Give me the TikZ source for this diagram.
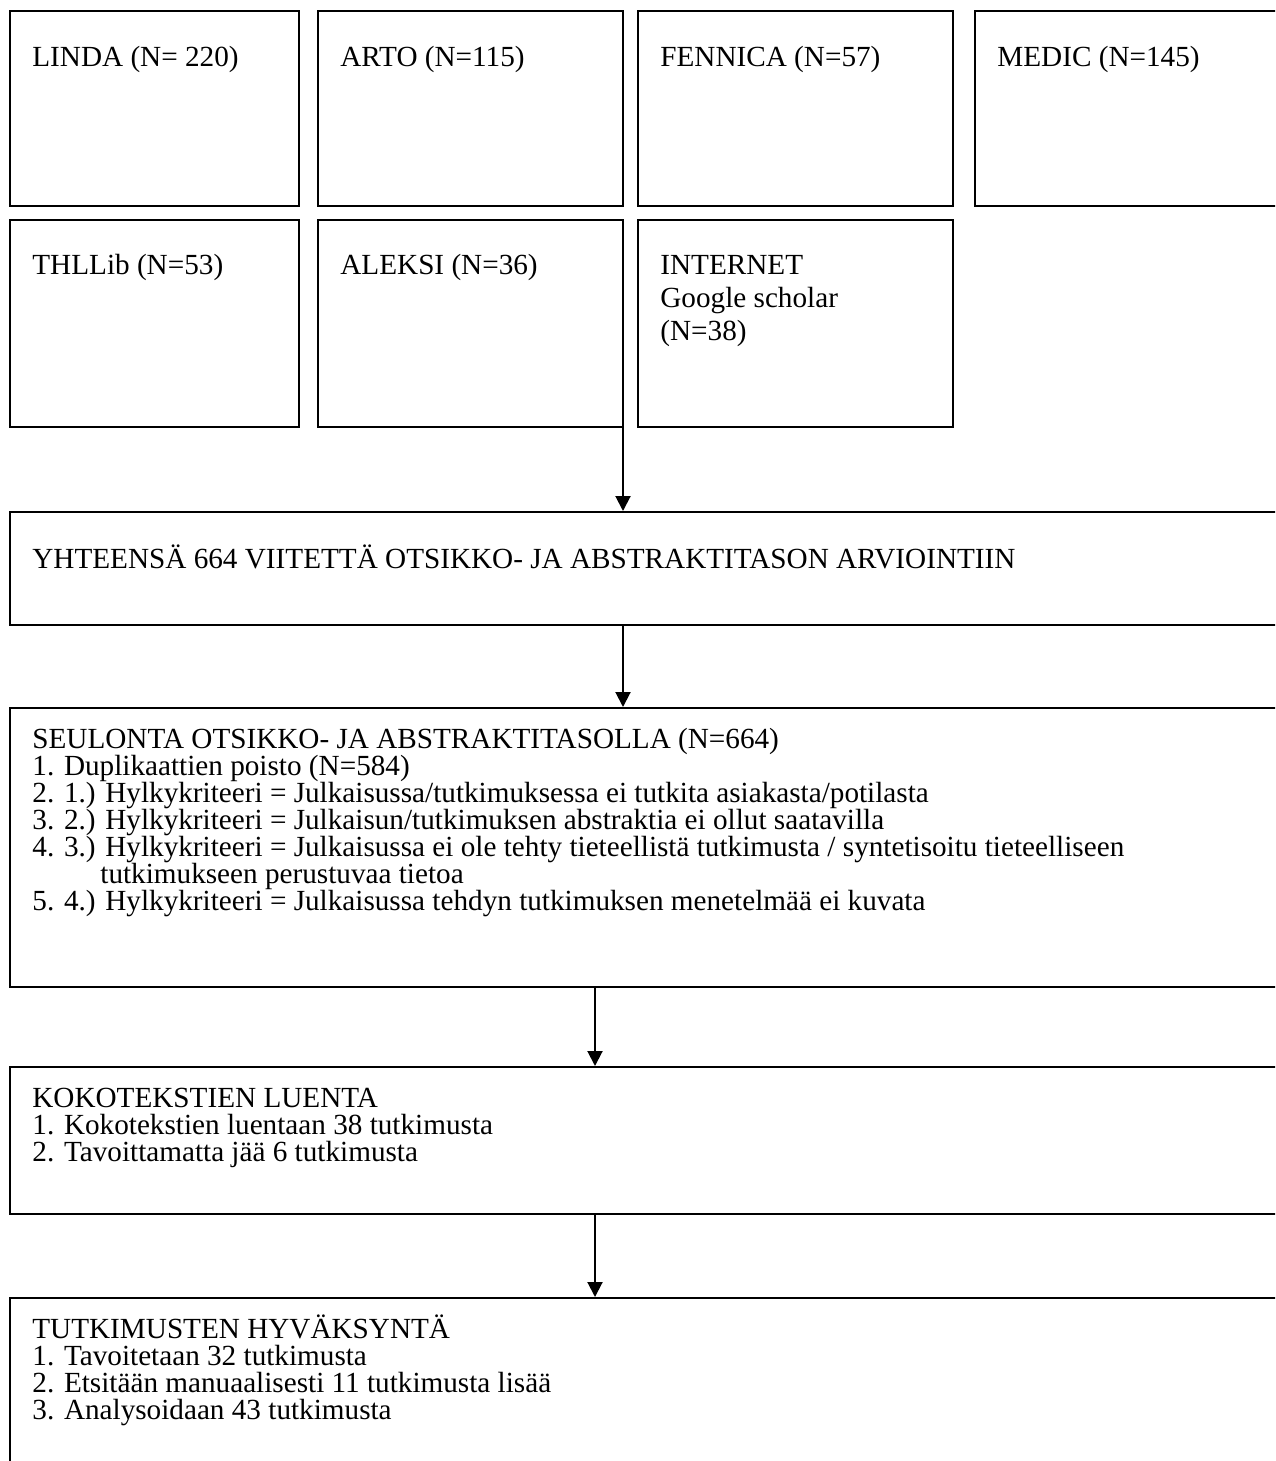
\documentclass[tikz,border=0pt]{standalone}
\usepackage{fontspec}
\setmainfont{Liberation Serif}
\usetikzlibrary{arrows.meta,fit}
\begin{document}
\begin{tikzpicture}[x=0.5pt,y=-0.5pt,
  box/.style={draw=black, line width=1pt, inner sep=0pt},
  lbl/.style={anchor=base west, inner sep=0pt, font=\fontsize{14.6pt}{16pt}\selectfont},
  arr/.style={draw=black, line width=1pt, -{Triangle[length=7.5pt,width=7.5pt]}}]
\useasboundingbox (0,0) rectangle (1275,1461);
\clip (0,0) rectangle (1275,1461);
% row 1
\node[box, fit={(10,11)(299,206)}] (linda) {};
\node[box, fit={(318,11)(623,206)}] (arto) {};
\node[box, fit={(638,11)(953,206)}] (fennica) {};
\node[box, fit={(975,11)(1300,206)}] (medic) {};
\node[lbl] (tlinda) at (32,67) {LINDA (N= 220)};
\node[lbl] (tarto) at (340,67) {ARTO (N=115)};
\node[lbl] (tfennica) at (660,67) {FENNICA (N=57)};
\node[lbl] (tmedic) at (997,67) {MEDIC (N=145)};
% row 2
\node[box, fit={(10,220)(299,427)}] (thl) {};
\node[box, fit={(318,220)(623,427)}] (aleksi) {};
\node[box, fit={(638,220)(953,427)}] (internet) {};
\node[lbl] (tthl) at (32,274) {THLLib (N=53)};
\node[lbl] (taleksi) at (340,274) {ALEKSI (N=36)};
\node[lbl] (tint1) at (660,274) {INTERNET};
\node[lbl] (tint2) at (660,307) {Google scholar};
\node[lbl] (tint3) at (660,340) {(N=38)};
% big boxes
\node[box, fit={(10,512)(1300,625)}] (yht) {};
\node[lbl] (tyht) at (32,568) {YHTEENSÄ 664 VIITETTÄ OTSIKKO- JA ABSTRAKTITASON ARVIOINTIIN};
\node[box, fit={(10,708)(1300,987)}] (seul) {};
\node[lbl] (ts1) at (32,748) {SEULONTA OTSIKKO- JA ABSTRAKTITASOLLA (N=664)};
\node[lbl] (ts2) at (32,775) {1. Duplikaattien poisto (N=584)};
\node[lbl] (ts3) at (32,802) {2. 1.) Hylkykriteeri = Julkaisussa/tutkimuksessa ei tutkita asiakasta/potilasta};
\node[lbl] (ts4) at (32,829) {3. 2.) Hylkykriteeri = Julkaisun/tutkimuksen abstraktia ei ollut saatavilla};
\node[lbl] (ts5) at (32,856) {4. 3.) Hylkykriteeri = Julkaisussa ei ole tehty tieteellistä tutkimusta / syntetisoitu tieteelliseen};
\node[lbl] (ts6) at (100,883) {tutkimukseen perustuvaa tietoa};
\node[lbl] (ts7) at (32,910) {5. 4.) Hylkykriteeri = Julkaisussa tehdyn tutkimuksen menetelmää ei kuvata};
\node[box, fit={(10,1067)(1300,1214)}] (koko) {};
\node[lbl] (tk1) at (32,1107) {KOKOTEKSTIEN LUENTA};
\node[lbl] (tk2) at (32,1134) {1. Kokotekstien luentaan 38 tutkimusta};
\node[lbl] (tk3) at (32,1161) {2. Tavoittamatta jää 6 tutkimusta};
\node[box, fit={(10,1298)(1300,1500)}] (hyv) {};
\node[lbl] (th1) at (32,1338) {TUTKIMUSTEN HYVÄKSYNTÄ};
\node[lbl] (th2) at (32,1365) {1. Tavoitetaan 32 tutkimusta};
\node[lbl] (th3) at (32,1392) {2. Etsitään manuaalisesti 11 tutkimusta lisää};
\node[lbl] (th4) at (32,1419) {3. Analysoidaan 43 tutkimusta};
% connectors
\coordinate (a1) at (623,410);
\coordinate (a3) at (595,0);
\draw[arr] (a1) -- (a1 |- yht.north);
\draw[arr] (yht.south -| a1) -- (seul.north -| a1);
\draw[arr] (seul.south -| a3) -- (koko.north -| a3);
\draw[arr] (koko.south -| a3) -- (hyv.north -| a3);
\end{tikzpicture}
\end{document}
